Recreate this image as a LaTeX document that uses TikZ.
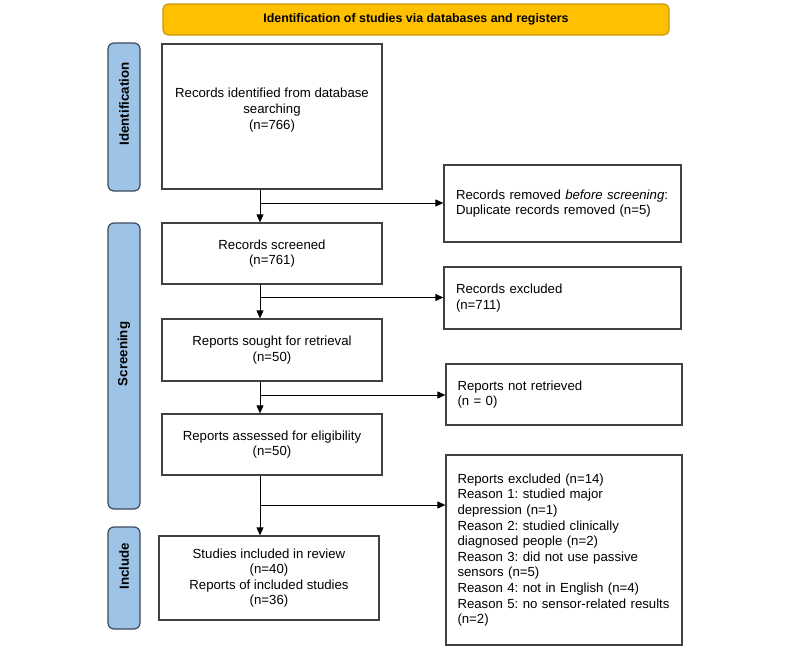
\documentclass[tikz,border=0pt]{standalone}
\usepackage{fontspec}
\setmainfont{Liberation Sans}
\usetikzlibrary{arrows.meta}
\definecolor{bannerfill}{HTML}{FFC000}
\definecolor{bannerdraw}{HTML}{C99A10}
\definecolor{sidefill}{HTML}{9DC3E6}
\definecolor{sidedraw}{HTML}{3A4A5C}
\definecolor{boxdraw}{HTML}{404040}
\tikzset{
  box/.style={draw=boxdraw, line width=1.3pt, fill=white, inner sep=0pt,
    font=\fontsize{13.2}{15.6}\selectfont},
  cbox/.style={box, align=center},
  lbox/.style={box, align=left, text width=213},
  side/.style={draw=sidedraw, line width=1.2pt, fill=sidefill, rounded corners=6pt,
    inner sep=0pt, minimum width=32},
  sidetext/.style={rotate=90, font=\fontsize{13.3}{15}\selectfont\bfseries, inner sep=0pt},
  flow/.style={draw=black, line width=0.9pt, -{Triangle[length=8pt,width=7pt]}}
}
\begin{document}
\frenchspacing
\begin{tikzpicture}[x=1pt,y=-1pt]
\useasboundingbox (0,0) rectangle (800,648);
% banner
\node[draw=bannerdraw, line width=1.2pt, fill=bannerfill, rounded corners=5pt,
  minimum width=506, minimum height=31, inner sep=0pt,
  font=\fontsize{12.4}{14}\selectfont\bfseries] (banner) at (416,19.5)
  {Identification of studies via databases and registers};
% side labels
\node[side, minimum height=148] (sid) at (124,117) {};
\node[sidetext] (sidt) at (124,104) {Identification};
\node[side, minimum height=286] (sscr) at (124,366) {};
\node[sidetext] (sscrt) at (124,354) {Screening};
\node[side, minimum height=102] (sinc) at (124,578) {};
\node[sidetext] (sinct) at (124,566) {Include};
% left column
\node[cbox, minimum width=220, minimum height=145] (b1) at (272,116.5)
  {Records identified from database\\searching\\(n=766)\\\mbox{}};
\node[cbox, minimum width=220, minimum height=61] (b2) at (272,253.5)
  {Records screened\\(n=761)};
\node[cbox, minimum width=220, minimum height=62] (b3) at (272,350)
  {Reports sought for retrieval\\(n=50)};
\node[cbox, minimum width=220, minimum height=61] (b4) at (272,444.5)
  {Reports assessed for eligibility\\(n=50)};
\node[cbox, minimum width=220, minimum height=84] (b5) at (269,578)
  {Studies included in review\\(n=40)\\Reports of included studies\\(n=36)};
% right column
\node[lbox, minimum width=237, minimum height=77] (r1) at (562.5,203.5)
  {Records removed \textit{before screening}:\\Duplicate records removed (n=5)};
\node[lbox, minimum width=237, minimum height=62] (r2) at (562.5,298)
  {Records excluded\\(n=711)};
\node[lbox, minimum width=236, minimum height=61] (r3) at (564,394.5)
  {Reports not retrieved\\(n = 0)};
\node[lbox, minimum width=236, minimum height=190] (r4) at (564,550)
  {Reports excluded (n=14)\\Reason 1: studied major\\depression (n=1)\\Reason 2: studied clinically\\diagnosed people (n=2)\\Reason 3: did not use passive\\sensors (n=5)\\Reason 4: not in English (n=4)\\Reason 5: no sensor-related results\\(n=2)};
% connectors
\coordinate (colx) at (260,0);
\coordinate (j1) at (260,203);
\coordinate (j2) at (260,297.5);
\coordinate (j3) at (260,395);
\coordinate (j4) at (260,505);
\draw[flow] (b1.south -| colx) -- (b2.north -| colx);
\draw[flow] (j1) -- (j1 -| r1.west);
\draw[flow] (b2.south -| colx) -- (b3.north -| colx);
\draw[flow] (j2) -- (j2 -| r2.west);
\draw[flow] (b3.south -| colx) -- (b4.north -| colx);
\draw[flow] (j3) -- (j3 -| r3.west);
\draw[flow] (b4.south -| colx) -- (b5.north -| colx);
\draw[flow] (j4) -- (j4 -| r4.west);
\end{tikzpicture}
\end{document}
